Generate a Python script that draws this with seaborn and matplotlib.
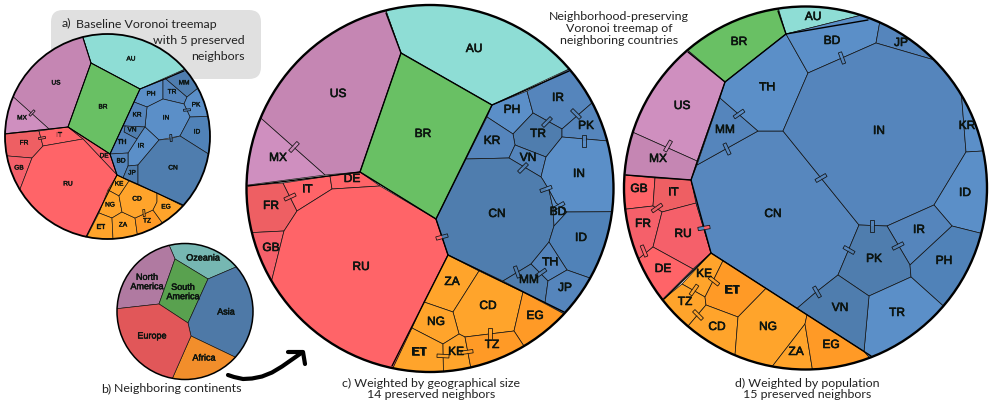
import matplotlib
matplotlib.use("Agg")
import matplotlib.patheffects as pe
import matplotlib.pyplot as plt
import numpy as np
import seaborn as sns
from matplotlib.patches import Circle, FancyBboxPatch, Polygon

TEAL, GREEN = "#8EDDD5", "#69C064"
PURPLE, PURPLE2 = "#C586B3", "#CF8FBF"
RED, RED2, RED3 = "#FF6468", "#EE5F63", "#F5606A"
ORANGE, ORANGE2 = "#FFA42B", "#FF9A26"
BLUE, BLUE2, BLUE3, BLUE4 = "#5B8FC8", "#5585BC", "#5082B8", "#4F7DAE"
BLUE5 = "#5787BE"

# a) baseline map
a_cells = {
    "AU": [(83, 38), (91, 63), (140, 89), (184, 71)],
    "US": [(83, 38), (91, 63), (68, 127), (49, 129), (14, 96)],
    "MX": [(14, 96), (49, 129), (5, 134)],
    "BR": [(91, 63), (140, 89), (110, 154), (68, 127)],
    "FR": [(5, 134), (39, 131), (43, 146), (32, 158), (7, 155)],
    "IT": [(39, 131), (68, 127), (83, 139), (43, 146)],
    "DE": [(68, 127), (110, 154), (117, 175), (83, 139)],
    "GB": [(7, 155), (32, 158), (22, 191)],
    "RU": [(43, 146), (83, 139), (117, 175), (86, 237), (22, 191), (32, 158)],
    "PH": [(140, 89), (163, 80), (163, 99), (147, 107), (134, 102)],
    "TR": [(163, 80), (166, 79), (187, 97), (184, 104), (163, 99)],
    "MM": [(166, 79), (184, 71), (199, 87), (187, 97)],
    "PK": [(187, 97), (199, 87), (208, 117), (190, 117), (184, 104)],
    "IN": [(147, 107), (163, 99), (184, 104), (190, 117), (180, 136), (159, 140), (145, 127)],
    "ID": [(190, 117), (208, 117), (210, 133), (207, 155), (180, 136)],
    "KR": [(134, 102), (147, 107), (145, 127), (125, 126), (123, 126)],
    "VN": [(125, 126), (145, 127), (137, 139), (124, 132)],
    "IR": [(145, 127), (159, 140), (138, 165), (128, 166), (128, 153), (137, 139)],
    "TH": [(123, 126), (125, 126), (124, 132), (137, 139), (128, 153), (110, 154)],
    "BD": [(110, 154), (128, 153), (128, 166), (123, 178), (117, 175)],
    "JP": [(123, 178), (128, 166), (138, 165), (138, 184)],
    "CN": [(138, 165), (159, 140), (169, 139), (180, 136), (207, 155), (183, 205), (138, 184)],
    "KE": [(117, 175), (129, 181), (119, 196), (108, 190)],
    "NG": [(108, 190), (119, 196), (122, 212), (112, 218), (99, 213)],
    "ET": [(99, 213), (112, 218), (113, 239), (86, 237)],
    "ZA": [(112, 218), (122, 212), (135, 218), (137, 235), (113, 239)],
    "TZ": [(135, 218), (153, 210), (162, 222), (137, 235)],
    "CD": [(129, 181), (157, 193), (157, 202), (153, 210), (135, 218), (122, 212), (119, 196)],
    "EG": [(157, 193), (183, 205), (162, 222), (153, 210), (157, 202)],
}
a_colors = {
    "AU": TEAL, "US": PURPLE, "MX": PURPLE2, "BR": GREEN, "FR": RED2, "IT": RED, "DE": RED3,
    "GB": RED3, "RU": RED, "PH": BLUE, "TR": BLUE2, "MM": BLUE4, "PK": BLUE, "IN": BLUE,
    "ID": BLUE3, "KR": BLUE2, "VN": BLUE4, "IR": BLUE, "TH": BLUE2, "BD": BLUE2, "JP": BLUE4,
    "CN": BLUE4, "KE": ORANGE, "NG": ORANGE, "ET": ORANGE, "ZA": ORANGE, "TZ": ORANGE2,
    "CD": ORANGE, "EG": ORANGE,
}
a_labels = {
    "AU": (131, 59), "US": (56, 83), "BR": (103, 107), "MX": (22, 118), "IT": (59, 135),
    "FR": (24, 143), "GB": (19, 168), "DE": (104, 156), "RU": (68, 184), "PH": (151, 94),
    "TR": (172, 92), "MM": (184, 83), "PK": (196, 105), "KR": (137, 115), "IN": (166, 118),
    "ID": (197, 132), "VN": (132, 130), "TH": (122, 142), "IR": (141, 146), "BD": (121, 161),
    "JP": (132, 173), "CN": (173, 168), "KE": (119, 184), "CD": (137, 199), "NG": (110, 205),
    "EG": (166, 207), "TZ": (147, 221), "ZA": (123, 225), "ET": (101, 227),
}
a_borders = [
    [(83, 38), (91, 63), (140, 89), (184, 71)],
    [(91, 63), (68, 127), (110, 154), (140, 89)],
    [(5, 134), (68, 127)],
    [(110, 154), (117, 175), (86, 237)],
    [(117, 175), (183, 205)],
]
a_links = [
    (32, 113, -47, "US", "MX"), (42, 138, -10, "FR", "IT"), (187, 110, -5, "IN", "PK"),
    (171, 138, 85, "IN", "CN"), (144, 213, 85, "CD", "TZ"),
]

# c) weighted by geographical size
c_cells = {
    "AU": [(386, 13), (401, 53), (492, 105), (569, 71)],
    "US": [(386, 13), (401, 53), (360, 172), (325, 175), (263, 117)],
    "MX": [(263, 117), (325, 175), (248, 186)],
    "BR": [(401, 53), (492, 105), (436, 219), (360, 172)],
    "FR": [(248, 186), (283, 183), (297, 211), (284, 231), (254, 231)],
    "GB": [(254, 231), (284, 231), (277, 284)],
    "IT": [(283, 183), (330, 176), (332, 189), (297, 211)],
    "DE": [(330, 176), (360, 172), (380, 186), (332, 189)],
    "RU": [(297, 211), (332, 189), (380, 186), (436, 219), (448, 255), (392, 366), (277, 284), (284, 231)],
    "PH": [(492, 105), (527, 91), (533, 113), (513, 134), (487, 117)],
    "IR": [(527, 91), (569, 71), (591, 102), (562, 129), (533, 113)],
    "TR": [(533, 113), (562, 129), (562, 137), (546, 157), (515, 145), (513, 134)],
    "PK": [(591, 102), (607, 143), (562, 137), (562, 129)],
    "KR": [(487, 117), (513, 134), (515, 145), (509, 158), (466, 159)],
    "VN": [(515, 145), (546, 157), (541, 177), (509, 158)],
    "IN": [(562, 137), (607, 143), (612, 211), (567, 212), (556, 203), (549, 190), (543, 180), (541, 177), (546, 157)],
    "CN": [(466, 159), (509, 158), (541, 177), (543, 180), (549, 190), (553, 208), (554, 226), (549, 242), (531, 264), (503, 281), (448, 255), (436, 219)],
    "BD": [(549, 190), (556, 203), (567, 212), (554, 226), (553, 208)],
    "ID": [(567, 212), (612, 211), (590, 277), (567, 270), (549, 242), (554, 226)],
    "TH": [(549, 242), (567, 270), (548, 281), (537, 270), (531, 264)],
    "MM": [(531, 264), (537, 270), (548, 281), (545, 303), (503, 281)],
    "JP": [(548, 281), (567, 270), (590, 277), (564, 312), (545, 303)],
    "ZA": [(448, 255), (479, 271), (453, 312), (424, 302)],
    "CD": [(479, 271), (523, 292), (514, 331), (489, 334), (465, 337), (459, 334), (453, 312)],
    "EG": [(523, 292), (564, 312), (523, 344), (514, 331)],
    "NG": [(424, 302), (453, 312), (459, 334), (443, 344), (412, 328)],
    "ET": [(412, 328), (443, 344), (443, 370), (392, 366)],
    "KE": [(443, 344), (459, 334), (465, 337), (470, 365), (443, 370)],
    "TZ": [(465, 337), (514, 331), (523, 344), (470, 365)],
}
c_colors = {
    "AU": TEAL, "US": PURPLE, "MX": PURPLE2, "BR": GREEN, "FR": RED2, "GB": RED3, "IT": RED,
    "DE": RED, "RU": RED, "PH": BLUE, "IR": BLUE2, "TR": BLUE4, "PK": BLUE2, "KR": BLUE2,
    "VN": BLUE2, "IN": BLUE, "CN": BLUE4, "BD": BLUE, "ID": BLUE3, "TH": BLUE2, "MM": BLUE4,
    "JP": BLUE2, "ZA": ORANGE, "CD": ORANGE, "EG": ORANGE2, "NG": ORANGE, "ET": ORANGE,
    "KE": ORANGE, "TZ": ORANGE2,
}
c_labels = {
    "US": (338, 94), "BR": (423, 134), "MX": (278, 158), "DE": (352, 179), "IT": (307, 189),
    "AU": (474, 49), "PH": (512, 110), "IR": (558, 98), "PK": (586, 126), "TR": (538, 134),
    "KR": (492, 141), "VN": (528, 158), "IN": (579, 174), "FR": (271, 206), "GB": (271, 248),
    "RU": (361, 267), "CN": (497, 214), "BD": (558, 212), "ID": (581, 238), "TH": (550, 262),
    "MM": (529, 280), "JP": (565, 288), "ZA": (452, 282), "CD": (488, 306), "EG": (535, 316),
    "NG": (436, 322), "ET": (419, 352), "KE": (456, 352), "TZ": (492, 345),
}
c_borders = [
    [(386, 13), (401, 53), (492, 105), (569, 71)],
    [(401, 53), (360, 172), (436, 219), (492, 105)],
    [(248, 186), (360, 172)],
    [(436, 219), (448, 255), (392, 366)],
    [(448, 255), (564, 312)],
]
c_links = [
    (294, 147, -47, "US", "MX"), (290, 197, -25, "FR", "IT"), (576, 114, 45, "IR", "PK"),
    (547, 122, -45, "IR", "TR"), (584, 141, 90, "PK", "IN"), (523, 168, -45, "VN", "CN"),
    (546, 189, -20, "CN", "IN"), (559, 206, -30, "BD", "IN"), (517, 272, 70, "CN", "MM"),
    (541, 273, -35, "TH", "MM"), (442, 237, -15, "RU", "CN"), (490, 334, 90, "CD", "TZ"),
    (443, 356, 3, "ET", "KE"), (467, 352, -8, "KE", "TZ"),
]

# d) weighted by population
d_cells = {
    "BR": [(778, 11), (786, 34), (725, 82), (688, 52)],
    "AU": [(778, 11), (786, 34), (868, 20)],
    "US": [(688, 52), (725, 82), (697, 161), (634, 132)],
    "MX": [(634, 132), (697, 161), (691, 180), (626, 175)],
    "GB": [(626, 175), (655, 178), (653, 206), (627, 209)],
    "IT": [(655, 178), (691, 180), (697, 203), (662, 212), (653, 206)],
    "FR": [(627, 209), (653, 206), (662, 212), (653, 247), (640, 260)],
    "RU": [(662, 212), (696, 203), (711, 253), (693, 269), (653, 247)],
    "DE": [(653, 247), (693, 269), (664, 299), (640, 260)],
    "CN": [(691, 180), (697, 165), (758, 131), (783, 131), (859, 225), (838, 275), (815, 293), (797, 308.4), (711, 253), (696, 203)],
    "MM": [(720, 98), (758, 131), (697, 165)],
    "TH": [(725, 82), (786, 34), (808, 73), (783, 131), (758, 131), (720, 98)],
    "BD": [(786, 34), (868, 20), (878, 23), (876, 43), (808, 73)],
    "JP": [(876, 43), (878, 23), (940, 67)],
    "IN": [(783, 131), (808, 73), (876, 43), (940, 67), (954, 88), (966, 152), (934, 205), (887, 226), (859, 225)],
    "KR": [(954, 88), (982, 152), (966, 152)],
    "ID": [(966, 152), (982, 152), (980, 233), (952, 226), (934, 205)],
    "IR": [(887, 226), (934, 205), (952, 226), (910, 265)],
    "PK": [(859, 225), (887, 226), (910, 265), (911, 277), (869, 296), (838, 275)],
    "PH": [(952, 226), (980, 233), (942, 305), (911, 277), (910, 265)],
    "TR": [(911, 277), (942, 305), (871, 356), (864, 351.5), (869, 296)],
    "VN": [(815, 293), (838, 275), (869, 296), (864, 351.5), (797, 308.4)],
    "KE": [(711, 253), (723, 260.7), (712, 283), (705, 297), (682, 284)],
    "TZ": [(682, 284), (705, 297), (706, 305), (689, 325), (664, 299)],
    "ET": [(723, 260.7), (766, 288.4), (738, 317), (706, 305), (705, 297), (712, 283)],
    "CD": [(706, 305), (738, 317), (737, 355), (689, 325)],
    "NG": [(766, 288.4), (807, 314.8), (805, 324), (770, 364), (737, 355), (738, 317)],
    "ZA": [(805, 324), (813, 368), (770, 364)],
    "EG": [(807, 314.8), (864, 351.5), (871, 356), (813, 368), (805, 324)],
}
d_colors = {
    "BR": GREEN, "AU": TEAL, "US": PURPLE2, "MX": PURPLE, "GB": RED, "IT": RED2, "FR": RED3,
    "RU": RED3, "DE": RED, "CN": BLUE5, "MM": BLUE2, "TH": BLUE, "BD": BLUE, "JP": BLUE2,
    "IN": BLUE2, "KR": BLUE, "ID": BLUE, "IR": BLUE2, "PK": BLUE4, "PH": BLUE3, "TR": BLUE,
    "VN": BLUE4, "KE": ORANGE, "TZ": ORANGE, "ET": ORANGE2, "CD": ORANGE, "NG": ORANGE,
    "ZA": ORANGE, "EG": ORANGE2,
}
d_labels = {
    "AU": (813, 17), "BR": (739, 42), "US": (682, 106), "TH": (767, 87), "MM": (725, 130),
    "MX": (658, 159), "GB": (639, 189), "IT": (673, 192), "BD": (832, 41), "JP": (901, 43),
    "IN": (879, 131), "KR": (967, 126), "ID": (965, 193), "CN": (773, 214), "FR": (643, 224),
    "RU": (683, 234), "DE": (663, 269), "KE": (704, 274), "ET": (732, 290), "TZ": (685, 302),
    "CD": (717, 327), "NG": (768, 327), "ZA": (796, 352), "EG": (831, 345), "VN": (840, 308),
    "TR": (897, 313), "PK": (874, 259), "IR": (919, 230), "PH": (944, 261),
}
d_borders = [
    [(688, 52), (725, 82), (786, 34), (778, 11)],
    [(786, 34), (868, 20)],
    [(725, 82), (691, 180), (626, 175)],
    [(691, 180), (711, 253), (664, 299)],
    [(711, 253), (871, 356)],
]
d_links = [
    (668, 146, -60, "US", "MX"), (739, 114, -35, "MM", "TH"), (727, 149, 65, "MM", "CN"),
    (657, 208, -35, "IT", "FR"), (644, 251, 68, "FR", "DE"), (704, 228, -10, "CN", "RU"),
    (714, 281, 38, "KE", "ET"), (694, 290, -55, "KE", "TZ"), (698, 315, 45, "TZ", "CD"),
    (821, 178, -30, "CN", "IN"), (842, 58, 70, "BD", "IN"), (817, 292, 60, "CN", "VN"),
    (849, 250, 30, "CN", "PK"), (872, 226, 90, "IN", "PK"), (898, 246, -27, "PK", "IR"),
]

# b) continents
b_cells = {
    "Ozeania": [(169, 246), (175, 259), (208, 279), (236, 268)],
    "North America": [(169, 246), (175, 259), (159, 304), (117, 309)],
    "South America": [(175, 259), (208, 279), (188, 323), (159, 304)],
    "Asia": [(208, 279), (236, 268), (236, 357), (191, 336), (188, 323)],
    "Africa": [(191, 336), (236, 357), (172, 378)],
    "Europe": [(117, 309), (159, 304), (188, 323), (191, 336), (172, 378)],
}
b_colors = {
    "Ozeania": "#76B7B2", "North America": "#B07AA1", "South America": "#59A14F",
    "Asia": "#4E79A7", "Africa": "#F28E2B", "Europe": "#E15759",
}
b_labels = {
    "Ozeania": (203, 258), "North America": (147, 282), "South America": (183, 292),
    "Asia": (226, 312), "Africa": (204, 358), "Europe": (152, 336),
}

arrow_line = [(228, 375), (234, 377), (243, 379), (252, 378.5), (262, 376.5), (272, 372.5),
              (282, 366.5), (292, 359.5), (302, 352.5)]
arrow_head = [(288, 352), (303, 352), (305, 364)]

sns.set_theme(style="white")
HAND = ["Lato", "DejaVu Sans"]
plt.rcParams["font.family"] = ["Liberation Sans", "DejaVu Sans"]


def bulged(poly, cx, cy, r):
    """Точки на окружности выносим наружу, дальше всё обрежет clip-path."""
    pts = np.array(poly, dtype=float)
    d = np.hypot(pts[:, 0] - cx, pts[:, 1] - cy)
    near = np.abs(d - r) < r * 0.035
    out = []
    for i, p in enumerate(pts):
        on_c = near[i]
        out.append(p if not on_c else np.array([cx, cy]) + (p - [cx, cy]) * 1.03 * r / d[i])
        j = (i + 1) % len(pts)
        if on_c and near[j]:
            m = (pts[i] + pts[j]) / 2 - [cx, cy]
            out.append(np.array([cx, cy]) + m / np.hypot(*m) * r * 1.7)
    return np.array(out)


def link(ax, x, y, ang, c1, c2, length, width, lw):
    u = np.array([np.cos(np.radians(ang)), np.sin(np.radians(ang))])
    v = np.array([-u[1], u[0]])
    p = np.array([x, y])
    for s, col in ((-1, c1), (1, c2)):
        end = p + s * u * length / 2
        half = [p - v * width / 2, end - v * width / 2, end + v * width / 2, p + v * width / 2]
        ax.add_patch(Polygon(half, facecolor=col, edgecolor="none", zorder=5))
    box = [p - u * length / 2 - v * width / 2, p + u * length / 2 - v * width / 2,
           p + u * length / 2 + v * width / 2, p - u * length / 2 + v * width / 2]
    ax.add_patch(Polygon(box, fill=False, edgecolor="#111111", linewidth=lw, zorder=6))


def draw_map(ax, cells, colors, labels, cx, cy, r, size, borders=(), links=(),
             link_size=(12, 3.4), thin=0.5, thick=1.0, ring=1.7):
    clip = Circle((cx, cy), r, transform=ax.transData)
    for name, poly in cells.items():
        patch = Polygon(bulged(poly, cx, cy, r), facecolor=colors[name], edgecolor="#111111",
                        linewidth=thin, joinstyle="round", zorder=2)
        ax.add_patch(patch)
        patch.set_clip_path(clip)
    for line in borders:
        xs, ys = zip(*line)
        sns.lineplot(x=list(xs), y=list(ys), sort=False, estimator=None, color="black",
                     linewidth=thick, ax=ax, zorder=3)
    for x, y, ang, n1, n2 in links:
        link(ax, x, y, ang, colors[n1], colors[n2], link_size[0], link_size[1], 0.55)
    ax.add_patch(Circle((cx, cy), r, fill=False, edgecolor="black", linewidth=ring, zorder=7))
    for name, (x, y) in labels.items():
        txt = name.replace(" ", "\n")
        t = ax.text(x, y, txt, ha="center", va="center", fontsize=size, color="#0c1410",
                    linespacing=1.05, zorder=8)
        t.set_path_effects([pe.withStroke(linewidth=size * 0.05, foreground="#0c1410")])


fig = plt.figure(figsize=(9.97, 4.08), dpi=100)
ax = fig.add_axes([0, 0, 1, 1])

ax.add_patch(FancyBboxPatch((63, 22), 186, 45, boxstyle="round,pad=12", linewidth=0,
                            facecolor="#E0E0E0", zorder=1))

draw_map(ax, a_cells, a_colors, a_labels, 107.5, 136.5, 102.5, 4.7, a_borders, a_links,
         link_size=(7, 2), thin=0.45, thick=0.8, ring=1.3)
draw_map(ax, b_cells, b_colors, b_labels, 185, 311.5, 68, 6.5, ring=1.1, thin=0.45)
draw_map(ax, c_cells, c_colors, c_labels, 430, 188.5, 183.5, 8.6, c_borders, c_links)
draw_map(ax, d_cells, d_colors, d_labels, 805.5, 188, 181.5, 8.6, d_borders, d_links)

xs, ys = zip(*arrow_line)
sns.lineplot(x=list(xs), y=list(ys), sort=False, estimator=None, color="black", linewidth=3,
             solid_capstyle="round", solid_joinstyle="round", ax=ax, zorder=4)
xs, ys = zip(*arrow_head)
sns.lineplot(x=list(xs), y=list(ys), sort=False, estimator=None, color="black", linewidth=3,
             solid_capstyle="round", solid_joinstyle="round", ax=ax, zorder=4)

hand = dict(family=HAND, fontsize=8.9, color="#222222", zorder=9)
ax.text(62, 23, "a)", ha="left", va="center", **hand)
ax.text(76, 24, "Baseline Voronoi treemap", ha="left", va="center", **hand)
ax.text(245, 40, "with 5 preserved", ha="right", va="center", **hand)
ax.text(245, 57, "neighbors", ha="right", va="center", **hand)
ax.text(619, 17, "Neighborhood-preserving", ha="center", va="center", **hand)
ax.text(619, 29, "Voronoi treemap of", ha="center", va="center", **hand)
ax.text(619, 41, "neighboring countries", ha="center", va="center", **hand)
ax.text(101, 389, "b)", ha="left", va="center", **hand)
ax.text(114, 389, "Neighboring continents", ha="left", va="center", **hand)
ax.text(431, 383, "c) Weighted by geographical size", ha="center", va="center", **hand)
ax.text(431, 395, "14 preserved neighbors", ha="center", va="center", **hand)
ax.text(807, 383, "d) Weighted by population", ha="center", va="center", **hand)
ax.text(807, 395, "15 preserved neighbors", ha="center", va="center", **hand)

ax.set_xlim(0, 997)
ax.set_ylim(408, 0)
ax.axis("off")
fig.savefig("out.png", dpi=100, facecolor="white")
